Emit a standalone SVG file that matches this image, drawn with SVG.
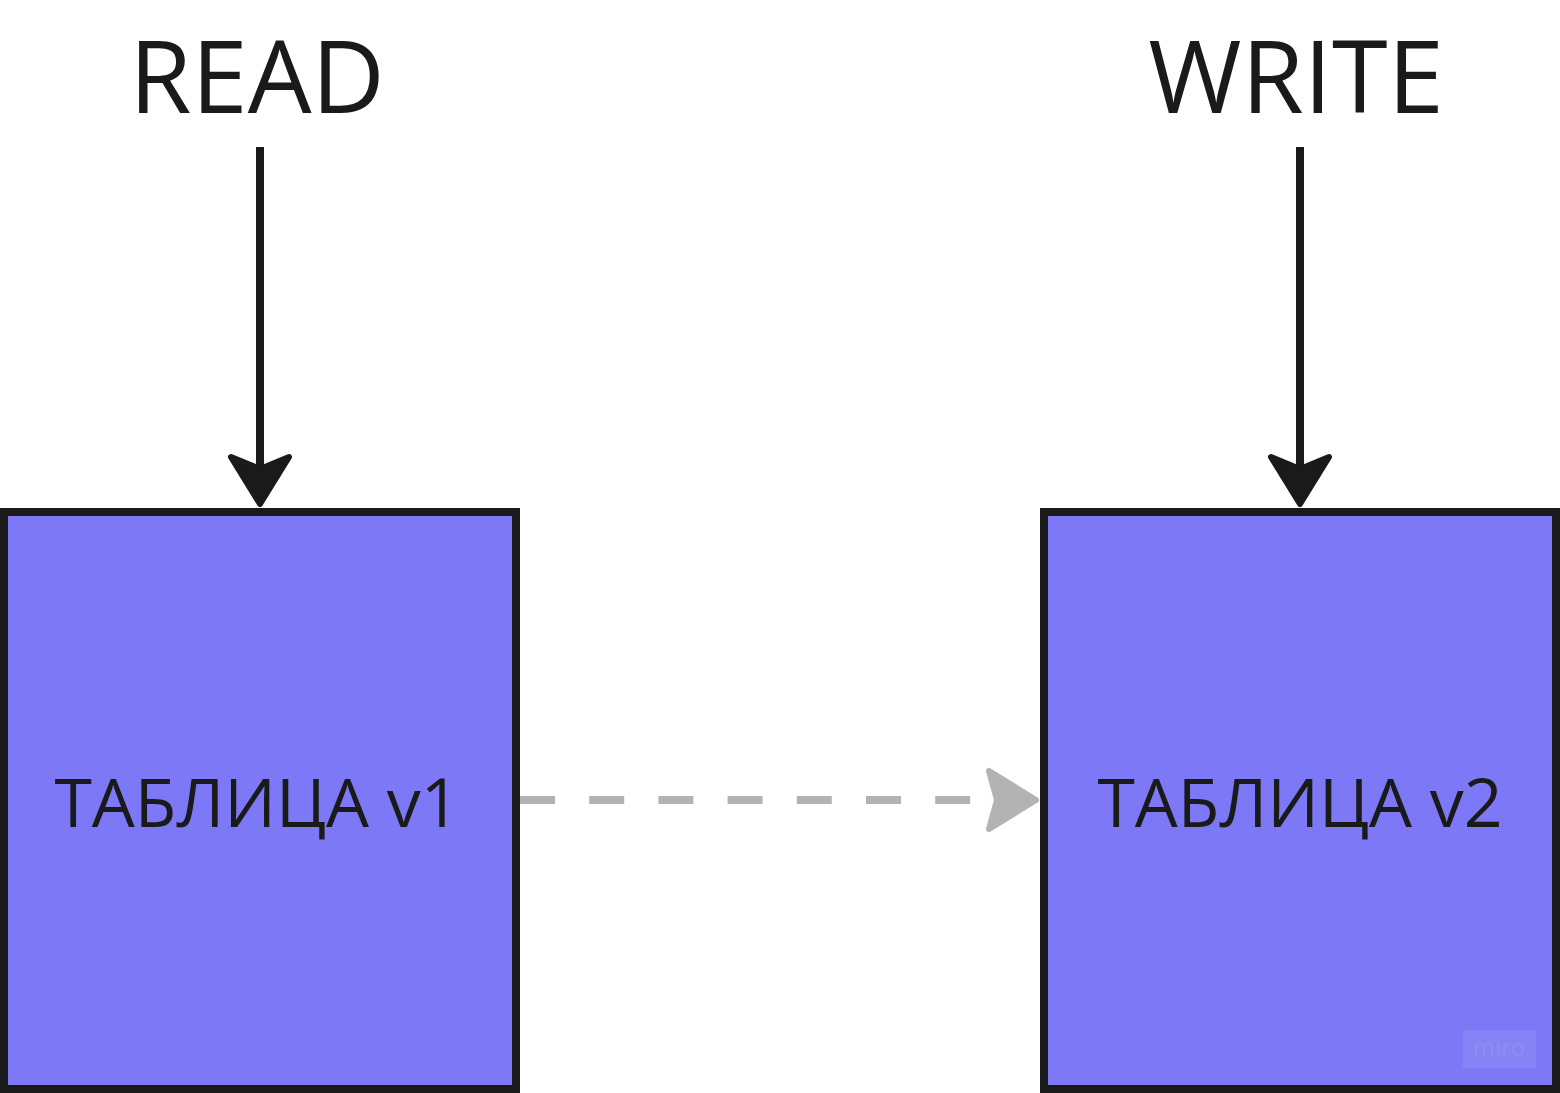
<svg xmlns="http://www.w3.org/2000/svg" width="1560" height="1093" viewBox="0 0 1560 1093">
  <style>
    .label { font-family: "Open Sans", "Noto Sans", "Liberation Sans", sans-serif; fill: #1a1a1a; }
    .title { font-size: 101px; text-anchor: middle; }
    .box-text { font-size: 68px; text-anchor: middle; }
    .box { fill: #7d79f6; stroke: #1a1a1a; stroke-width: 8; }
    .solid { stroke: #1a1a1a; stroke-width: 8; fill: none; }
    .dashed { stroke: #b3b3b3; stroke-width: 8; fill: none; stroke-dasharray: 35 34.2; }
    .head-dark { fill: #1a1a1a; stroke: #1a1a1a; stroke-width: 6; stroke-linejoin: round; }
    .head-grey { fill: #b3b3b3; stroke: #b3b3b3; stroke-width: 6; stroke-linejoin: round; }
  </style>
  <rect width="1560" height="1093" fill="#ffffff"/>

  <g id="read-label">
    <text class="label title" x="257" y="113">READ</text>
  </g>
  <g id="write-label">
    <text class="label title" x="1296" y="113">WRITE</text>
  </g>

  <g id="table-v1">
    <rect class="box" x="4" y="512" width="512" height="577"/>
    <text class="label box-text" x="257" y="827">ТАБЛИЦА v1</text>
  </g>
  <g id="table-v2">
    <rect class="box" x="1044" y="512" width="512" height="577"/>
    <text class="label box-text" x="1300" y="827">ТАБЛИЦА v2</text>
    <rect x="1463" y="1030" width="73" height="38" fill="#ffffff" fill-opacity="0.08"/>
    <text x="1499" y="1056" font-family="'Open Sans', sans-serif" font-size="24" text-anchor="middle" fill="#8f8cf0">miro</text>
  </g>

  <g id="connectors">
    <line class="solid" x1="260" y1="147" x2="260" y2="490"/>
    <path class="head-dark" d="M260,504 L231,457 L260,469 L289,457 Z"/>
    <line class="solid" x1="1300" y1="147" x2="1300" y2="490"/>
    <path class="head-dark" d="M1300,504 L1271,457 L1300,469 L1329,457 Z"/>
    <line class="dashed" x1="520" y1="800" x2="975" y2="800"/>
    <path class="head-grey" d="M1036,800 L989,771 L997,800 L989,829 Z"/>
  </g>
</svg>
